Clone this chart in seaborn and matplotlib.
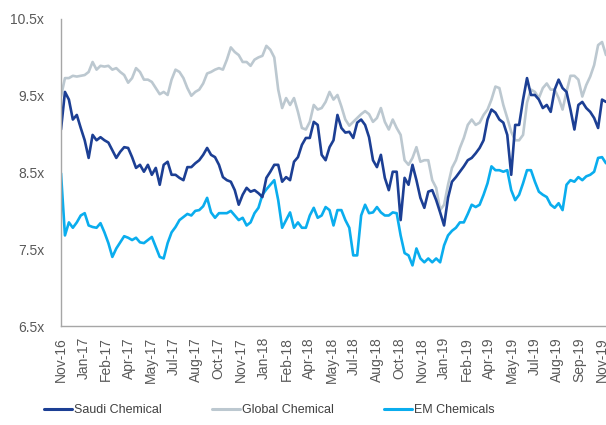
import numpy as np
import pandas as pd
import matplotlib
matplotlib.use("Agg")
import matplotlib.pyplot as plt
import seaborn as sns
from matplotlib.lines import Line2D

# ---------------- data ----------------
start_date = "2016-11-18"
n_points = 139
step = "8D"

saudi = [9.06, 9.55, 9.45, 9.19, 9.25, 9.08, 8.92, 8.69, 8.99, 8.92,
         8.96, 8.92, 8.89, 8.79, 8.69, 8.77, 8.83, 8.82, 8.70, 8.56,
         8.60, 8.51, 8.60, 8.47, 8.56, 8.34, 8.60, 8.64, 8.47, 8.47,
         8.43, 8.40, 8.57, 8.57, 8.62, 8.66, 8.73, 8.82, 8.73, 8.70,
         8.60, 8.44, 8.40, 8.38, 8.27, 8.08, 8.21, 8.30, 8.25, 8.27,
         8.23, 8.18, 8.43, 8.51, 8.60, 8.60, 8.38, 8.44, 8.40, 8.64,
         8.70, 8.86, 8.95, 8.95, 9.16, 9.12, 8.73, 8.66, 8.83, 8.92,
         9.25, 9.08, 9.02, 9.03, 8.95, 9.15, 9.19, 9.12, 8.96, 8.66,
         8.57, 8.73, 8.43, 8.27, 8.51, 8.51, 7.88, 8.43, 8.34, 8.60,
         8.40, 8.17, 8.04, 8.25, 8.27, 8.14, 7.98, 7.81, 8.17, 8.38,
         8.44, 8.51, 8.58, 8.66, 8.69, 8.75, 8.82, 8.92, 9.19, 9.32,
         9.28, 9.19, 9.15, 8.99, 8.47, 9.12, 9.12, 9.45, 9.73, 9.51,
         9.51, 9.45, 9.34, 9.38, 9.29, 9.58, 9.71, 9.60, 9.55, 9.32,
         9.06, 9.38, 9.42, 9.34, 9.29, 9.21, 9.08, 9.45, 9.42]

global_chem = [9.49, 9.73, 9.73, 9.76, 9.75, 9.76, 9.77, 9.81, 9.94, 9.84,
               9.89, 9.88, 9.89, 9.84, 9.86, 9.81, 9.77, 9.67, 9.73, 9.86,
               9.81, 9.71, 9.71, 9.68, 9.60, 9.52, 9.55, 9.51, 9.71, 9.84,
               9.81, 9.73, 9.60, 9.50, 9.55, 9.58, 9.66, 9.79, 9.81, 9.84,
               9.86, 9.84, 9.97, 10.13, 10.07, 10.03, 9.94, 9.94, 9.89, 9.97,
               10.00, 10.02, 10.15, 10.10, 10.00, 9.58, 9.34, 9.47, 9.38, 9.47,
               9.29, 9.08, 9.06, 9.16, 9.38, 9.32, 9.34, 9.42, 9.55, 9.45,
               9.51, 9.36, 9.19, 9.11, 9.16, 9.21, 9.26, 9.30, 9.26, 9.16,
               9.21, 9.34, 9.16, 9.06, 9.19, 9.08, 8.99, 8.66, 8.60, 8.69,
               8.83, 8.64, 8.66, 8.66, 8.40, 8.30, 8.01, 8.08, 8.34, 8.56,
               8.66, 8.82, 8.95, 9.12, 9.19, 9.12, 9.15, 9.25, 9.32, 9.45,
               9.62, 9.60, 9.38, 9.21, 9.03, 8.92, 8.92, 8.99, 9.41, 9.58,
               9.55, 9.47, 9.60, 9.66, 9.58, 9.58, 9.47, 9.32, 9.55, 9.76,
               9.76, 9.71, 9.49, 9.64, 9.75, 9.90, 10.16, 10.20, 10.03]

em_chem = [8.49, 7.68, 7.85, 7.78, 7.85, 7.94, 7.97, 7.81, 7.79, 7.78,
           7.84, 7.72, 7.58, 7.40, 7.51, 7.59, 7.67, 7.65, 7.62, 7.65,
           7.59, 7.58, 7.62, 7.66, 7.53, 7.40, 7.38, 7.58, 7.72, 7.79,
           7.88, 7.92, 7.96, 7.94, 8.00, 8.01, 8.06, 8.17, 7.98, 7.91,
           7.97, 7.97, 7.97, 8.00, 7.94, 7.88, 7.91, 7.81, 7.85, 7.97,
           8.04, 8.21, 8.28, 8.34, 8.40, 8.14, 7.78, 7.88, 7.98, 7.78,
           7.85, 7.78, 7.78, 7.94, 8.04, 7.91, 7.94, 8.05, 8.01, 7.81,
           8.01, 8.01, 7.88, 7.78, 7.42, 7.42, 7.94, 8.08, 7.97, 7.98,
           8.05, 7.98, 7.94, 7.94, 7.98, 7.97, 7.68, 7.45, 7.42, 7.29,
           7.51, 7.38, 7.33, 7.38, 7.33, 7.38, 7.33, 7.55, 7.68, 7.74,
           7.78, 7.85, 7.85, 7.96, 8.08, 8.05, 8.08, 8.21, 8.36, 8.58,
           8.53, 8.53, 8.51, 8.53, 8.27, 8.14, 8.21, 8.36, 8.53, 8.53,
           8.38, 8.25, 8.21, 8.18, 8.08, 8.04, 8.10, 8.01, 8.34, 8.40,
           8.38, 8.44, 8.40, 8.45, 8.47, 8.51, 8.69, 8.70, 8.62]

series_names = ["Saudi Chemical", "Global Chemical", "EM Chemicals"]
tick_labels = ["Nov-16", "Jan-17", "Feb-17", "Apr-17", "May-17", "Jul-17",
               "Aug-17", "Oct-17", "Nov-17", "Jan-18", "Feb-18", "Apr-18",
               "May-18", "Jul-18", "Aug-18", "Oct-18", "Nov-18", "Jan-19",
               "Feb-19", "Apr-19", "May-19", "Jul-19", "Aug-19", "Sep-19",
               "Nov-19"]
y_ticks = [6.5, 7.5, 8.5, 9.5, 10.5]

# ---------------- build frame ----------------
dates = pd.date_range(start_date, periods=n_points, freq=step)
df = pd.concat([
    pd.DataFrame({"date": dates, "value": saudi, "series": series_names[0]}),
    pd.DataFrame({"date": dates, "value": global_chem, "series": series_names[1]}),
    pd.DataFrame({"date": dates, "value": em_chem, "series": series_names[2]}),
], ignore_index=True)

colors = {"Saudi Chemical": "#1C3F94",
          "Global Chemical": "#BCC8D0",
          "EM Chemicals": "#0AADEE"}

sns.set_theme(style="white")
plt.rcParams["font.family"] = ["Liberation Sans", "DejaVu Sans"]

W, H = 606, 425
fig = plt.figure(figsize=(W / 100, H / 100), dpi=100)
ax = fig.add_axes([61 / W, 1 - 326 / H, (606 - 61) / W, (326 - 19) / H])

order = ["Global Chemical", "EM Chemicals", "Saudi Chemical"]
for name in order:
    sns.lineplot(data=df[df["series"] == name], x="date", y="value",
                 color=colors[name], linewidth=1.9, ax=ax, legend=False)

t0 = dates[0]
span_days = 1096
ax.set_xlim(t0, t0 + pd.Timedelta(days=1104))
ax.set_ylim(6.5, 10.5)

tick_pos = [t0 + pd.Timedelta(days=span_days * k / (len(tick_labels) - 1))
            for k in range(len(tick_labels))]
ax.set_xticks(tick_pos)
ax.set_xticklabels(tick_labels, rotation=90, fontsize=10, color="#595959")
ax.set_yticks(y_ticks)
ax.set_yticklabels([f"{v}x" for v in y_ticks], fontsize=10, color="#595959")
ax.set_xlabel("")
ax.set_ylabel("")

for s in ["top", "right"]:
    ax.spines[s].set_visible(False)
for s in ["left", "bottom"]:
    ax.spines[s].set_color("#A6A6A6")
    ax.spines[s].set_linewidth(1.0)
ax.tick_params(axis="x", which="both", direction="out", length=4,
               width=1.0, color="#A6A6A6", pad=4)
ax.tick_params(axis="y", which="both", direction="out", length=4,
               width=1.0, color="#A6A6A6", pad=8)
ax.grid(False)

handles = [Line2D([0], [0], color=colors[n], linewidth=2.2) for n in series_names]
fig.legend(handles, series_names, loc="center", ncol=3, frameon=False,
           bbox_to_anchor=(269.5 / W, 1 - 410 / H), fontsize=9,
           handlelength=2.2, handletextpad=0.2, columnspacing=4.0,
           labelcolor="#404040", borderpad=0, borderaxespad=0)

fig.savefig("out.png", dpi=100)
